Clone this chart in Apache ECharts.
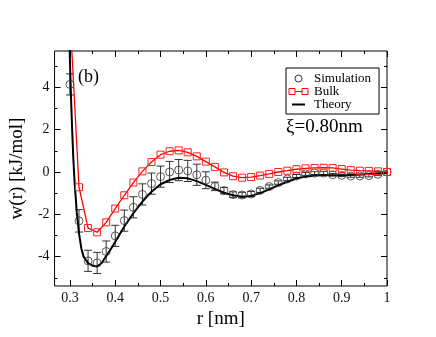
<!DOCTYPE html>
<html>
<head>
<meta charset="utf-8">
<script src="https://cdn.jsdelivr.net/npm/echarts@6/dist/echarts.min.js"></script>
<style>
  html, body { margin: 0; padding: 0; background: #fff; }
  #chart { width: 436px; height: 337px; }
</style>
</head>
<body>
<div id="chart"></div>
<script>
// r values shared by simulation and bulk (nm)
const rPoints = [0.30, 0.32, 0.34, 0.36, 0.38, 0.40, 0.42, 0.44, 0.46, 0.48,
  0.50, 0.52, 0.54, 0.56, 0.58, 0.60, 0.62, 0.64, 0.66, 0.68,
  0.70, 0.72, 0.74, 0.76, 0.78, 0.80, 0.82, 0.84, 0.86, 0.88,
  0.90, 0.92, 0.94, 0.96, 0.98, 1.00]

const simulation = [4.14, -2.31, -4.20, -4.30, -3.76, -3.02, -2.30, -1.67, -1.06, -0.55,
  -0.22, 0.00, 0.09, 0.05, -0.13, -0.39, -0.68, -0.88, -1.07, -1.09,
  -1.04, -0.87, -0.69, -0.50, -0.33, -0.19, -0.09, -0.05, -0.05, -0.13,
  -0.16, -0.19, -0.19, -0.17, -0.11, 0.00]

const simError = [0.50, 0.53, 0.50, 0.50, 0.50, 0.50, 0.50, 0.50, 0.50, 0.50,
  0.50, 0.50, 0.50, 0.50, 0.50, 0.40, 0.20, 0.15, 0.13, 0.13,
  0.12, 0.10, 0.08, 0.08, 0.08, 0.07, 0.07, 0.07, 0.07, 0.06,
  0.06, 0.06, 0.06, 0.06, 0.06, 0.05]

const bulk = [7.40, -0.72, -2.65, -2.85, -2.38, -1.73, -1.10, -0.50, 0.03, 0.47,
  0.82, 0.98, 1.02, 0.93, 0.74, 0.49, 0.24, -0.02, -0.20, -0.27,
  -0.24, -0.17, -0.09, 0.00, 0.06, 0.13, 0.17, 0.19, 0.20, 0.19,
  0.14, 0.09, 0.06, 0.05, 0.03, 0.00]

const theoryR = [0.298, 0.300, 0.3025, 0.305, 0.3075, 0.31, 0.315, 0.32, 0.325, 0.33,
  0.34, 0.35, 0.36, 0.37, 0.38, 0.39, 0.40, 0.42, 0.44, 0.46,
  0.48, 0.50, 0.52, 0.54, 0.56, 0.58, 0.60, 0.62, 0.64, 0.66,
  0.68, 0.70, 0.72, 0.74, 0.76, 0.78, 0.80, 0.82, 0.84, 0.86,
  0.88, 0.90, 0.92, 0.94, 0.96, 0.98, 1.00]
const theory = [7.0, 5.2, 3.4, 1.9, 0.6, -0.4, -1.9, -2.9, -3.6, -4.0,
  -4.31, -4.43, -4.47, -4.30, -3.97, -3.65, -3.30, -2.58, -1.95, -1.40,
  -0.93, -0.58, -0.38, -0.27, -0.30, -0.43, -0.61, -0.80, -0.98, -1.10,
  -1.17, -1.13, -1.00, -0.82, -0.63, -0.46, -0.31, -0.22, -0.17, -0.16,
  -0.16, -0.16, -0.14, -0.12, -0.10, -0.07, -0.05]

const xMajor = [0.3, 0.4, 0.5, 0.6, 0.7, 0.8, 0.9, 1.0]
const xMinor = [0.35, 0.45, 0.55, 0.65, 0.75, 0.85, 0.95]
const yMajor = [-4, -2, 0, 2, 4]
const yMinor = [-5, -3, -1, 1, 3, 5]

const X_MIN = 0.266, X_MAX = 1.0, Y_MIN = -5.39, Y_MAX = 5.72
const FONT = 'Liberation Serif'

const zip = (xs, ys) => xs.map((x, i) => [x, ys[i]])

// one axis per tick set: major/minor on both sides, like the xmgrace frame
const makeX = (position, ticks, len, labels) => ({
  type: 'value', position, min: X_MIN, max: X_MAX,
  axisLine: { show: false, onZero: false },
  splitLine: { show: false },
  axisTick: { show: true, inside: true, length: len, customValues: ticks, lineStyle: { color: '#000' } },
  axisLabel: labels
    ? { show: true, customValues: ticks, margin: 5, fontFamily: FONT, fontSize: 14, color: '#111',
        formatter: (v) => String(+v.toFixed(1)) }
    : { show: false }
})

const makeY = (position, ticks, len, labels) => ({
  type: 'value', position, min: Y_MIN, max: Y_MAX,
  axisLine: { show: false, onZero: false },
  splitLine: { show: false },
  axisTick: { show: true, inside: true, length: len, customValues: ticks, lineStyle: { color: '#000' } },
  axisLabel: labels
    ? { show: true, customValues: ticks, margin: 5, fontFamily: FONT, fontSize: 14, color: '#111',
        formatter: (v) => String(Math.round(v)) }
    : { show: false }
})

const xAxes = [
  { ...makeX('bottom', xMajor, 6, true), name: 'r [nm]', nameLocation: 'middle', nameGap: 13,
    nameTextStyle: { fontFamily: FONT, fontSize: 19, color: '#000' } },
  makeX('bottom', xMinor, 3, false),
  makeX('top', xMajor, 6, false),
  makeX('top', xMinor, 3, false)
]
const yAxes = [
  { ...makeY('left', yMajor, 6, true), name: 'w(r) [kJ/mol]', nameLocation: 'middle', nameGap: 17,
    nameTextStyle: { fontFamily: FONT, fontSize: 19, color: '#000' } },
  makeY('left', yMinor, 3, false),
  makeY('right', yMajor, 6, false),
  makeY('right', yMinor, 3, false)
]

const errorData = rPoints.map((r, i) => [r, simulation[i] - simError[i], simulation[i] + simError[i]])

const chart = echarts.init(document.getElementById('chart'), null, { renderer: 'canvas' })
chart.setOption({
  animation: false,
  backgroundColor: '#fff',
  grid: { left: 50, right: 49, top: 51, bottom: 51, show: true, borderColor: '#000', borderWidth: 1, backgroundColor: 'transparent' },
  xAxis: xAxes,
  yAxis: yAxes,
  legend: {
    orient: 'vertical', left: 286, top: 68,
    padding: [4, 8, 3, 1], itemGap: 0, itemWidth: 21, itemHeight: 8,
    borderColor: '#000', borderWidth: 1, backgroundColor: '#fff',
    textStyle: { fontFamily: FONT, fontSize: 13, color: '#000', lineHeight: 13 },
    data: [
      { name: 'Simulation', icon: 'path://M0,0M21,8M7,4A3.5,3.5,0,1,1,14,4A3.5,3.5,0,1,1,7,4Z',
        itemStyle: { color: 'rgba(0,0,0,0)', borderColor: '#000', borderWidth: 1 } },
      { name: 'Bulk', icon: 'path://M0,0M21,8M1,1L7,1L7,7L1,7ZM7,4L14,4M14,1L20,1L20,7L14,7Z',
        itemStyle: { color: 'rgba(0,0,0,0)', borderColor: '#ff0000', borderWidth: 1 } },
      { name: 'Theory', icon: 'path://M0,0M21,8M4,4L17,4',
        itemStyle: { color: 'rgba(0,0,0,0)', borderColor: '#000', borderWidth: 2 } }
    ]
  },
  graphic: [
    { type: 'text', left: 78, top: 68, style: { text: '(b)', fontFamily: FONT, fontSize: 18, fill: '#000' } },
    { type: 'text', left: 286, top: 118, style: { text: 'ξ=0.80nm', fontFamily: FONT, fontSize: 19, fill: '#000' } }
  ],
  series: [
    {
      name: 'Theory', type: 'line', data: zip(theoryR, theory),
      symbol: 'none', clip: true, z: 3,
      lineStyle: { color: '#000', width: 2 }, itemStyle: { color: '#000' }
    },
    {
      name: 'Bulk', type: 'line', data: zip(rPoints, bulk),
      symbol: 'rect', symbolSize: 7, clip: true, z: 4,
      lineStyle: { color: '#ff0000', width: 1.3 },
      itemStyle: { color: 'rgba(255,255,255,0)', borderColor: '#ff2020', borderWidth: 1 }
    },
    {
      name: 'SimError', type: 'custom', data: errorData, clip: true, z: 2,
      renderItem: (params, api) => {
        const x = api.value(0)
        const lo = api.coord([x, api.value(1)])
        const hi = api.coord([x, api.value(2)])
        const cap = 4
        const style = { stroke: '#333', lineWidth: 1 }
        return {
          type: 'group',
          children: [
            { type: 'line', shape: { x1: lo[0], y1: lo[1], x2: hi[0], y2: hi[1] }, style },
            { type: 'line', shape: { x1: lo[0] - cap, y1: lo[1], x2: lo[0] + cap, y2: lo[1] }, style },
            { type: 'line', shape: { x1: hi[0] - cap, y1: hi[1], x2: hi[0] + cap, y2: hi[1] }, style }
          ]
        }
      }
    },
    {
      name: 'Simulation', type: 'scatter', data: zip(rPoints, simulation),
      symbol: 'circle', symbolSize: 8, clip: true, z: 3,
      itemStyle: { color: 'rgba(0,0,0,0)', borderColor: '#333', borderWidth: 1 }
    }
  ]
})
</script>
</body>
</html>
